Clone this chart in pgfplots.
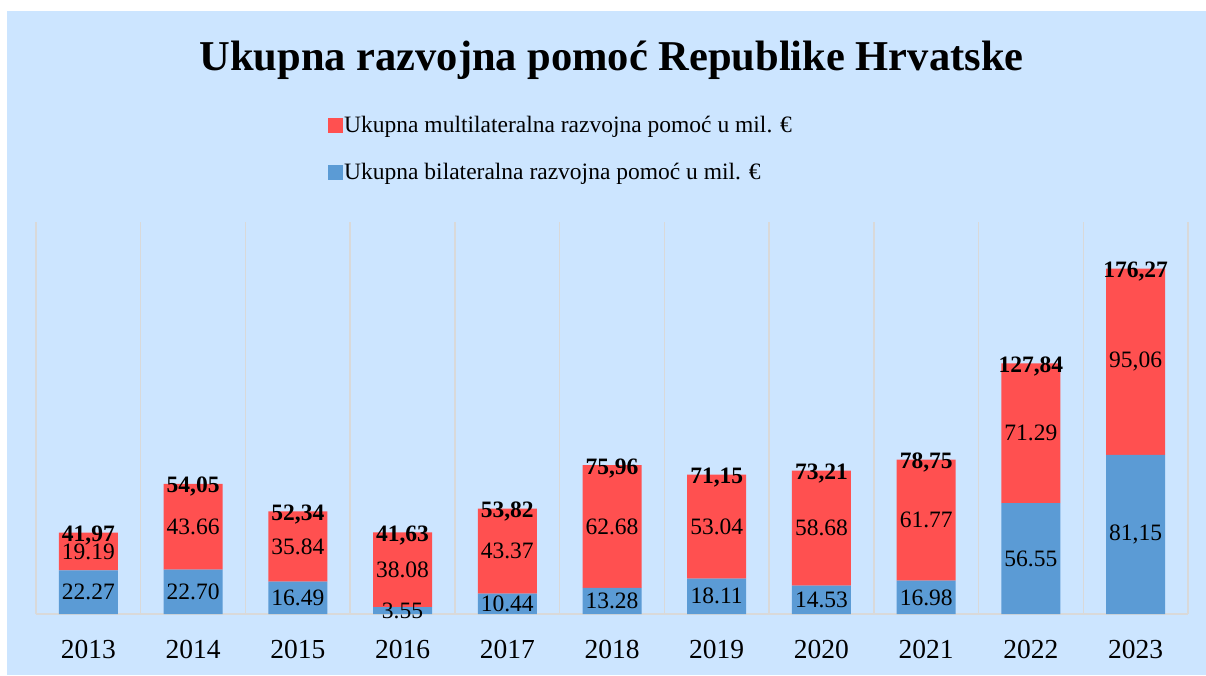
\documentclass[border=0pt]{standalone}
\usepackage{pgfplots}
\usepackage{pgfplotstable}
\pgfplotsset{compat=1.18}
\usepackage{fontspec}
\setmainfont{Liberation Serif}
\definecolor{bgblue}{RGB}{204,229,255}
\definecolor{barred}{RGB}{255,80,80}
\definecolor{barblue}{RGB}{91,155,213}
\definecolor{gridgray}{RGB}{217,217,217}
\pgfplotstableread{
x bi mu bil mul tot
0 22.27 19.19 22.27 19.19 41,97
1 22.70 43.66 22.70 43.66 54,05
2 16.49 35.84 16.49 35.84 52,34
3 3.55 38.08 3.55 38.08 41,63
4 10.44 43.37 10.44 43.37 53,82
5 13.28 62.68 13.28 62.68 75,96
6 18.11 53.04 18.11 53.04 71,15
7 14.53 58.68 14.53 58.68 73,21
8 16.98 61.77 16.98 61.77 78,75
9 56.55 71.29 56.55 71.29 127,84
10 81.15 95.06 81,15 95,06 176,27
}\datatable
\begin{document}
\begin{tikzpicture}[x=1pt,y=1pt]
\fill[white] (0,0) rectangle (1206,675);
\path[use as bounding box] (0,0) rectangle (1206,675);
\fill[bgblue] (7,0) rectangle (1206,664);
\node[anchor=base, font=\fontsize{42.5pt}{48pt}\selectfont\bfseries] at (611.5,604) {Ukupna razvojna pomoć Republike Hrvatske};
\begin{axis}[
  at={(36pt,61pt)}, anchor=south west,
  scale only axis, width=1152pt, height=392pt,
  xmin=-0.5, xmax=10.5, ymin=0, ymax=200,
  ybar stacked, bar width=59pt,
  axis x line*=bottom, axis y line=none,
  axis line style={draw=gridgray, line width=1.5pt},
  xtick={0,1,2,3,4,5,6,7,8,9,10},
  xticklabels={2013,2014,2015,2016,2017,2018,2019,2020,2021,2022,2023},
  minor xtick={-0.5,0.5,1.5,2.5,3.5,4.5,5.5,6.5,7.5,8.5,9.5,10.5},
  xminorgrids=true,
  minor grid style={draw=gridgray, line width=1.5pt},
  major tick length=0pt, minor tick length=0pt,
  ytick=\empty,
  xticklabel style={font=\fontsize{27.5pt}{30pt}\selectfont, anchor=base, yshift=-44pt},
  legend style={at={(axis description cs:0.2535,1.272)}, anchor=north west, draw=none, fill=none,
    font=\fontsize{23.5pt}{26pt}\selectfont, inner sep=0pt, row sep=27pt,
    nodes={inner sep=1pt, anchor=base west}},
  legend cell align=left,
  reverse legend,
  legend image code/.code={\fill[#1, draw=none] (0pt,-0.5pt) rectangle (15pt,14.5pt);},
]
\addplot[fill=barblue, draw=none] table[x=x, y=bi] \datatable;
\addlegendentry{Ukupna bilateralna razvojna pomoć u mil. €}
\addplot[fill=barred, draw=none] table[x=x, y=mu] \datatable;
\addlegendentry{Ukupna multilateralna razvojna pomoć u mil. €}
\end{axis}
\begin{axis}[
  at={(36pt,61pt)}, anchor=south west,
  scale only axis, width=1152pt, height=392pt,
  xmin=-0.5, xmax=10.5, ymin=0, ymax=200,
  hide axis, clip=false,
  nodes near coords={\pgfplotspointmeta},
  point meta=explicit symbolic,
  every node near coord/.append style={anchor=center, inner sep=0pt, font=\fontsize{23.5pt}{26pt}\selectfont},
]
\addplot[draw=none, mark=none] table[x=x, y expr=\thisrow{bi}/2, meta=bil] \datatable;
\addplot[draw=none, mark=none] table[x=x, y expr=\thisrow{bi}+\thisrow{mu}/2, meta=mul] \datatable;
\addplot[draw=none, mark=none, nodes near coords={\textbf{\pgfplotspointmeta}}, every node near coord/.append style={yshift=-3pt}] table[x=x, y expr=\thisrow{bi}+\thisrow{mu}, meta=tot] \datatable;
\end{axis}
\end{tikzpicture}
\end{document}
